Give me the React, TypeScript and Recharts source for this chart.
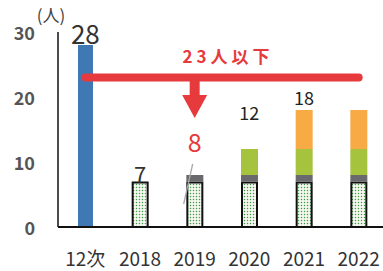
import React from "react";
import {
  ComposedChart,
  Bar,
  Line,
  XAxis,
  YAxis,
  LabelList,
  ReferenceLine,
  ReferenceDot,
  Customized,
} from "recharts";

const categories = ["12次", "2018", "2019", "2020", "2021", "2022"];
const prevPlanValues = [28, 0, 0, 0, 0, 0];
const baseValues = [0, 7, 7, 7, 7, 7];
const grayValues = [0, 0, 1, 1, 1, 1];
const greenValues = [0, 0, 0, 4, 4, 4];
const orangeValues = [0, 0, 0, 0, 6, 6];
const totalLabels = ["28", "7", "8", "12", "18", ""];
const yTicks = [0, 10, 20, 30];
const targetValue = 23;
const targetText = "23人以下";
const arrowTo = 20.3;
const unitText = "(人)";

const data = categories.map((c, i) => ({
  cat: c,
  prev: prevPlanValues[i],
  base: baseValues[i],
  gray: grayValues[i],
  green: greenValues[i],
  orange: orangeValues[i],
  total:
    prevPlanValues[i] + baseValues[i] + grayValues[i] + greenValues[i] + orangeValues[i],
}));

const FONT = "'Noto Sans CJK JP', 'Noto Sans', sans-serif";
const RED = "#e63a3c";

const labelStyles = [
  { size: 26, fill: "#333", dy: -13 },
  { size: 22, fill: "#333", dy: -9 },
  { size: 25, fill: RED, dy: -34 },
  { size: 18, fill: "#222", dy: -37 },
  { size: 18, fill: "#222", dy: -13 },
  { size: 18, fill: "#222", dy: -13 },
];

const TopLabel = (props: any) => {
  const { x, y, index } = props;
  const st = labelStyles[index];
  const txt = totalLabels[index];
  if (!txt) return null;
  return (
    <g>
      <text
        x={x}
        y={y + st.dy}
        textAnchor="middle"
        dominantBaseline="central"
        fontSize={st.size}
        fill={st.fill}
        fontFamily={FONT}
      >
        {txt}
      </text>
      {index === 2 ? (
        <line x1={x - 2} y1={y - 11} x2={x - 11} y2={y + 29} stroke="#a8a8a8" strokeWidth={1.3} />
      ) : null}
    </g>
  );
};

const BlueShape = (props: any) => {
  const { x, y, width, height } = props;
  if (!height || height <= 0) return null;
  return <rect x={x + 1} y={y} width={width - 2} height={height} fill="#4078b4" />;
};

const BaseShape = (props: any) => {
  const { x, y, width, height } = props;
  if (!height || height <= 0) return null;
  return (
    <rect
      x={x + 1}
      y={y + 1}
      width={width - 2}
      height={height - 1}
      fill="url(#dots)"
      stroke="#111"
      strokeWidth={2}
    />
  );
};

const YTick = (props: any) => {
  const { y, payload } = props;
  return (
    <text
      x={35}
      y={y}
      textAnchor="end"
      dominantBaseline="central"
      fontSize={18}
      fontWeight="bold"
      fill="#555"
      fontFamily={FONT}
    >
      {payload.value}
    </text>
  );
};

const XTick = (props: any) => {
  const { x, y, payload } = props;
  return (
    <text
      x={x}
      y={y + 28}
      textAnchor="middle"
      dominantBaseline="central"
      fontSize={19}
      fill="#333"
      fontFamily={FONT}
    >
      {payload.value}
    </text>
  );
};

const TargetLabel = (props: any) => {
  const { viewBox } = props;
  if (!viewBox) return null;
  return (
    <text
      x={viewBox.x + viewBox.width / 2 + 6}
      y={viewBox.y - 22}
      textAnchor="middle"
      dominantBaseline="central"
      fontSize={17}
      fontWeight="bold"
      letterSpacing={4}
      fill={RED}
      fontFamily={FONT}
    >
      {targetText}
    </text>
  );
};

const ArrowHead = (props: any) => {
  const { cx, cy } = props;
  return (
    <polygon points={`${cx - 12.5},${cy} ${cx + 12.5},${cy} ${cx},${cy + 23}`} fill={RED} />
  );
};

const Extras = () => (
  <g>
    <defs>
      <pattern id="dots" width="3" height="3" patternUnits="userSpaceOnUse">
        <rect width="3" height="3" fill="#f4f8ee" />
        <circle cx="1.5" cy="1.5" r="0.75" fill="#3f9a4a" />
      </pattern>
    </defs>
    <text x={51} y={14} textAnchor="middle" dominantBaseline="central" fontSize={17} fill="#444" fontFamily={FONT}>
      {unitText}
    </text>
  </g>
);

export default function App() {
  return (
    <div
      style={{
        position: "absolute",
        left: 0,
        top: 0,
        width: 383,
        height: 271,
        overflow: "hidden",
        background: "#fff",
      }}
    >
      <ComposedChart
        width={386}
        height={271}
        data={data}
        margin={{ top: 32, right: 0, bottom: 0, left: 0 }}
        barSize={17}
      >
        <Customized component={Extras} />
        <XAxis
          dataKey="cat"
          height={44}
          tickLine={false}
          tickSize={0}
          axisLine={{ stroke: "#111", strokeWidth: 2 }}
          tick={<XTick />}
          interval={0}
        />
        <YAxis
          width={58}
          domain={[0, 30]}
          ticks={yTicks}
          tickLine={false}
          axisLine={{ stroke: "#111", strokeWidth: 1.5 }}
          tick={<YTick />}
        />
        <Bar dataKey="prev" stackId="a" shape={<BlueShape />} isAnimationActive={false} />
        <Bar dataKey="base" stackId="a" shape={<BaseShape />} isAnimationActive={false} />
        <Bar dataKey="gray" stackId="a" fill="#6a6a6e" isAnimationActive={false} />
        <Bar dataKey="green" stackId="a" fill="#a6c33e" isAnimationActive={false} />
        <Bar dataKey="orange" stackId="a" fill="#f8ab45" isAnimationActive={false} />
        <Line
          dataKey="total"
          stroke="none"
          dot={false}
          activeDot={false}
          isAnimationActive={false}
        >
          <LabelList dataKey="total" content={<TopLabel />} />
        </Line>
        <ReferenceLine
          segment={[
            { x: categories[0], y: targetValue },
            { x: categories[5], y: targetValue },
          ]}
          stroke={RED}
          strokeWidth={8}
          strokeLinecap="round"
          label={<TargetLabel />}
        />
        <ReferenceLine
          segment={[
            { x: categories[2], y: targetValue },
            { x: categories[2], y: arrowTo },
          ]}
          stroke={RED}
          strokeWidth={10}
        />
        <ReferenceDot x={categories[2]} y={arrowTo} r={0} shape={<ArrowHead />} />
      </ComposedChart>
    </div>
  );
}
